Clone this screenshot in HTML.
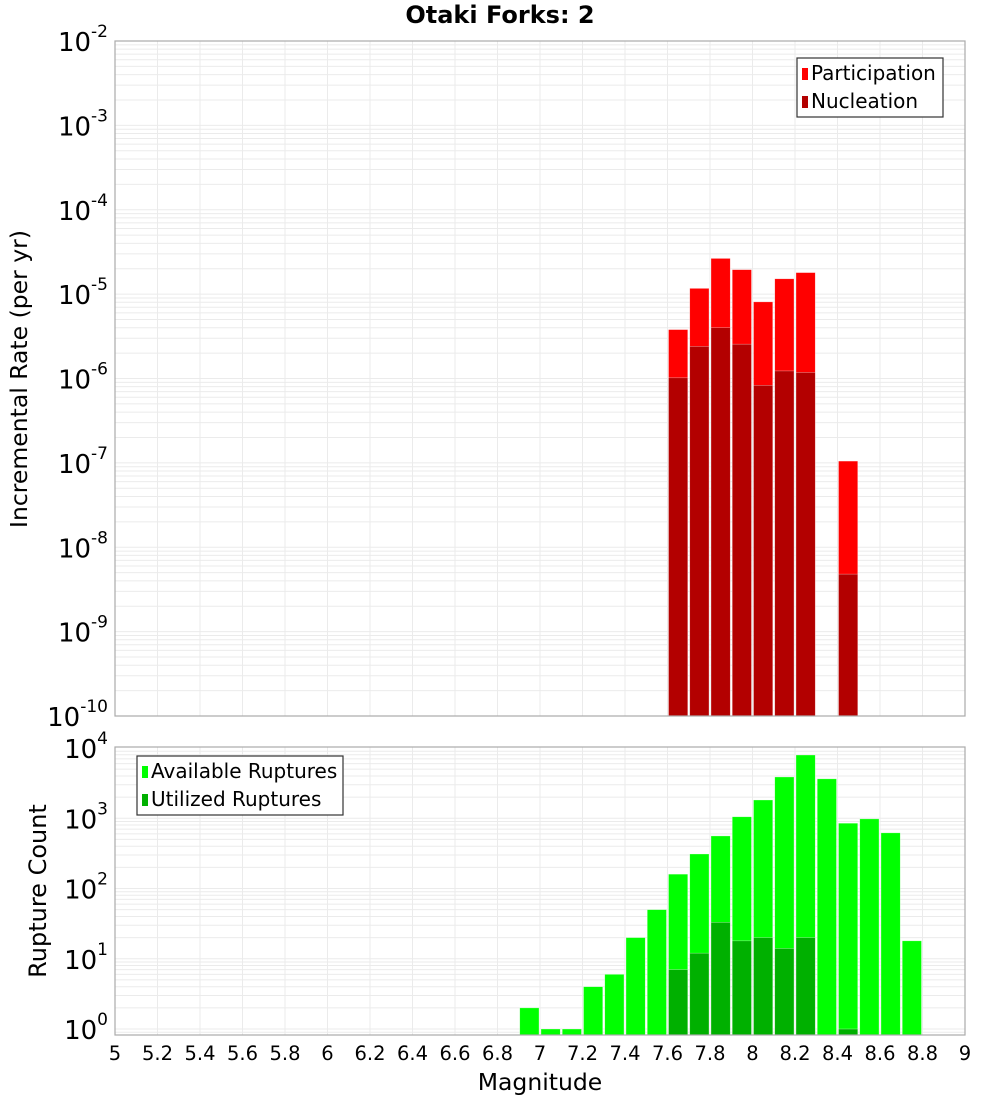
<!DOCTYPE html>
<html><head><meta charset="utf-8"><style>
html,body{margin:0;padding:0;background:#fff;}
svg{display:block;font-family:"DejaVu Sans","Liberation Sans",sans-serif;}
</style></head><body>
<svg id="chart" width="1000" height="1100" viewBox="0 0 1000 1100" xmlns="http://www.w3.org/2000/svg">
<text x="500" y="23" text-anchor="middle" font-size="24" font-weight="bold">Otaki Forks: 2</text>
<g id="top"></g>
<g id="bot"></g>
<text x="0" y="0" transform="translate(27,379) rotate(-90)" text-anchor="middle" font-size="23.5">Incremental Rate (per yr)</text>
<text x="0" y="0" transform="translate(46,891) rotate(-90)" text-anchor="middle" font-size="24">Rupture Count</text>
<text x="540" y="1090" text-anchor="middle" font-size="23.5">Magnitude</text>
</svg>
<script>
const binStarts = [6.9,7.0,7.1,7.2,7.3,7.4,7.5,7.6,7.7,7.8,7.9,8.0,8.1,8.2,8.3,8.4,8.5,8.6,8.7];
const availableCounts = [2,1,1,4,6,20,50,160,310,560,1050,1820,3870,7950,3640,850,980,620,18];
const utilizedCounts = [0,0,0,0,0,0,0,7,12,33,18,20,14,20,0,1,0,0,0];
const rateBins = [7.6,7.7,7.8,7.9,8.0,8.1,8.2,8.4];
const participationRates = [3.8e-6,1.17e-5,2.65e-5,1.95e-5,8.1e-6,1.52e-5,1.8e-5,1.05e-7];
const nucleationRates = [1.02e-6,2.4e-6,4.0e-6,2.55e-6,8.3e-7,1.23e-6,1.18e-6,4.8e-9];
const xTicks = [5,5.2,5.4,5.6,5.8,6,6.2,6.4,6.6,6.8,7,7.2,7.4,7.6,7.8,8,8.2,8.4,8.6,8.8,9];
const xTickLabels = ["5","5.2","5.4","5.6","5.8","6","6.2","6.4","6.6","6.8","7","7.2","7.4","7.6","7.8","8","8.2","8.4","8.6","8.8","9"];
const topExps = [-2,-3,-4,-5,-6,-7,-8,-9,-10];
const botExps = [4,3,2,1,0];

const NS="http://www.w3.org/2000/svg";
const svg=document.getElementById('chart');
function mk(parent,tag,attrs){const e=document.createElementNS(NS,tag);for(const k in attrs)e.setAttribute(k,attrs[k]);parent.appendChild(e);return e;}
const X0=115,X1=965;
function xs(m){return X0+(m-5)/4*(X1-X0);}
function topY(v){return 41+(-2-Math.log10(v))*84.375;}
function botY(v){return 1029-Math.log10(v)*70.25;}

function panel(g,yTop,yBot,yFn,lo,hi){
  mk(g,'rect',{x:X0,y:yTop,width:X1-X0,height:yBot-yTop,fill:'#fff'});
  for(let d=lo;d<hi;d++){for(let k=1;k<10;k++){const y=yFn(k*Math.pow(10,d));if(y<yTop||y>yBot)continue;
    const l=mk(g,'line',{x1:X0,x2:X1,y1:y,y2:y,stroke:'#ebebeb','stroke-width':1});
    
    }}
  xTicks.forEach(t=>{const x=xs(t);
    const l=mk(g,'line',{x1:x,x2:x,y1:yTop,y2:yBot,stroke:'#ebebeb','stroke-width':1});
    
    });
}
function frame(g,yTop,yBot){const r=mk(g,'rect',{x:X0,y:yTop,width:X1-X0,height:yBot-yTop,fill:'none',stroke:'#aaa','stroke-width':1.2});
  
  }
function yLabel(g,exp,y){
  const t=mk(g,'text',{x:108,y:y+10,'text-anchor':'end','font-size':26});
  
  
  const a=document.createElementNS(NS,'tspan');a.textContent='10';t.appendChild(a);
  const b=document.createElementNS(NS,'tspan');b.setAttribute('dy','-14');b.setAttribute('font-size','17');b.textContent=String(exp);t.appendChild(b);
}
function bar(g,m,v,yFn,yBot,color,name){
  const y=yFn(v);const x=xs(m)+1,w=xs(m+0.1)-xs(m)-2;
  const r=mk(g,'rect',{x:x,y:y,width:w,height:yBot-y,fill:color,stroke:'#fff','stroke-opacity':0.5,'stroke-width':0.6});
  
  
}
const gt=document.getElementById('top');
panel(gt,41,716,topY,-10,-2);
rateBins.forEach((m,i)=>bar(gt,m,participationRates[i],topY,716,'#ff0000','participation-bar'));
rateBins.forEach((m,i)=>bar(gt,m,nucleationRates[i],topY,716,'#b30000','nucleation-bar'));
frame(gt,41,716);
topExps.forEach(e=>yLabel(gt,e,topY(Math.pow(10,e))));
const gb=document.getElementById('bot');
panel(gb,747,1035,botY,-1,4);
binStarts.forEach((m,i)=>{if(availableCounts[i]>0)bar(gb,m,availableCounts[i],botY,1035,'#00ff00','available-ruptures-bar');});
binStarts.forEach((m,i)=>{if(utilizedCounts[i]>0)bar(gb,m,utilizedCounts[i],botY,1035,'#00b000','utilized-ruptures-bar');});
frame(gb,747,1035);
botExps.forEach(e=>yLabel(gb,e,botY(Math.pow(10,e))));
xTicks.forEach((t,i)=>{const tx=mk(svg,'text',{x:xs(t),y:1060,'text-anchor':'middle','font-size':19.5});
  
  
  tx.textContent=xTickLabels[i];});
function legend(x,y,w,items){
  const g=mk(svg,'g',{});
  
  
  mk(g,'rect',{x:x,y:y,width:w,height:59,fill:'#fff',stroke:'#333','stroke-width':1.2});
  items.forEach((it,i)=>{const yy=y+15+i*28;
    const s=mk(g,'rect',{x:x+5,y:yy-5,width:6,height:12,fill:it[1]});
    
    
    const t=mk(g,'text',{x:x+14,y:yy+7,'font-size':20});
    
    
    t.textContent=it[0];});
}
legend(797,58,146,[['Participation','#ff0000'],['Nucleation','#b30000']]);
legend(137,756,206,[['Available Ruptures','#00ff00'],['Utilized Ruptures','#00b000']]);
</script>
</body></html>
